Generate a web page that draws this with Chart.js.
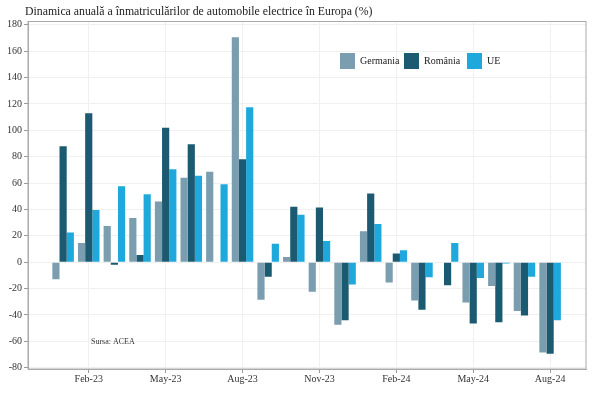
<!DOCTYPE html>
<html>
<head>
<meta charset="utf-8">
<script src="https://cdn.jsdelivr.net/npm/chart.js@4"></script>
<style>
  body { margin: 0; background: #fff; }
</style>
</head>
<body>
<canvas id="chart" width="600" height="400"></canvas>
<script>
// Date (variatie anuala, %)
const months = ['Jan-23', 'Feb-23', 'Mar-23', 'Apr-23', 'May-23', 'Jun-23', 'Jul-23', 'Aug-23', 'Sep-23', 'Oct-23',
    'Nov-23', 'Dec-23', 'Jan-24', 'Feb-24', 'Mar-24', 'Apr-24', 'May-24', 'Jun-24', 'Jul-24', 'Aug-24'];
const germania = [-13, 14.5, 27.5, 33.5, 46, 64, 68.5, 170.5, -28.5, 4, -22.5, -47.5, 23.5, -15.5, -29, -0.5, -30.5, -18, -37, -68.5];
const romania = [88, 113, -2, 5.5, 102, 89.5, null, 78, -11, 42, 41.5, -44, 52, 6.5, -36, -17.5, -46.5, -45.5, -40.5, -69.5];
const ue = [22.5, 39.5, 57.5, 51.5, 70.5, 65.5, 59, 117.5, 14, 36, 16, -17, 29, 9, -11.5, 14.5, -12, -1, -11, -44];
const xTickLabels = ['Feb-23', 'May-23', 'Aug-23', 'Nov-23', 'Feb-24', 'May-24', 'Aug-24'];

const FONT = "'Liberation Serif', 'DejaVu Serif', serif";
const toPoints = arr => arr.map((v, i) => ({ x: i, y: v }));

// titlu, legenda in interior, sursa si rama graficului
const decor = {
    id: 'decor',
    afterDraw(chart) {
        const { ctx, chartArea: a } = chart;
        ctx.save();
        ctx.strokeStyle = '#aaa';
        ctx.lineWidth = 1;
        ctx.strokeRect(a.left, a.top, a.right - a.left, a.bottom - a.top);

        ctx.fillStyle = '#222';
        ctx.font = `11.8px ${FONT}`;
        ctx.textBaseline = 'alphabetic';
        ctx.fillText('Dinamica anuală a înmatriculărilor de automobile electrice în Europa (%)', 25, 15);

        // legenda
        ctx.font = `10px ${FONT}`;
        ctx.textBaseline = 'middle';
        const legendX = [340, 404, 467];
        chart.data.datasets.forEach((ds, i) => {
            ctx.fillStyle = ds.backgroundColor;
            ctx.fillRect(legendX[i], 53, 15, 16);
            ctx.fillStyle = '#222';
            ctx.fillText(ds.label, legendX[i] + 20, 61.5);
        });

        ctx.font = `8px ${FONT}`;
        ctx.fillStyle = '#333';
        ctx.fillText('Sursa: ACEA', 91, 342);
        ctx.restore();
    }
};

new Chart(document.getElementById('chart'), {
    type: 'bar',
    data: {
        datasets: [
            { label: 'Germania', data: toPoints(germania), backgroundColor: '#7a9eaf' },
            { label: 'România', data: toPoints(romania), backgroundColor: '#1b5a70' },
            { label: 'UE', data: toPoints(ue), backgroundColor: '#1fa8dc' }
        ]
    },
    options: {
        responsive: false,
        animation: false,
        layout: { padding: { top: 21.5, right: 14, left: 0, bottom: 0 } },
        datasets: { bar: { categoryPercentage: 0.84, barPercentage: 1, borderWidth: 0 } },
        plugins: { legend: { display: false }, tooltip: { enabled: false } },
        scales: {
            x: {
                type: 'linear',
                offset: false,
                min: -1.37,
                max: 20.4,
                afterBuildTicks: scale => {
                    scale.ticks = xTickLabels.map(l => ({ value: months.indexOf(l) }));
                },
                afterFit: scale => { scale.height = 31; },
                grid: { offset: false, color: '#f0f0f0', tickColor: '#999', tickLength: 4 },
                border: { color: '#aaa' },
                ticks: {
                    color: '#333',
                    padding: 0,
                    maxRotation: 0,
                    font: { family: FONT, size: 10 },
                    callback: v => months[v]
                }
            },
            y: {
                min: -81,
                max: 182.5,
                afterFit: scale => { scale.width = 28; },
                grid: { color: '#f0f0f0', tickColor: '#999', tickLength: 4 },
                border: { color: '#aaa' },
                ticks: {
                    stepSize: 20,
                    includeBounds: false,
                    color: '#333',
                    padding: 2,
                    font: { family: FONT, size: 10 }
                }
            }
        }
    },
    plugins: [decor]
});
</script>
</body>
</html>
